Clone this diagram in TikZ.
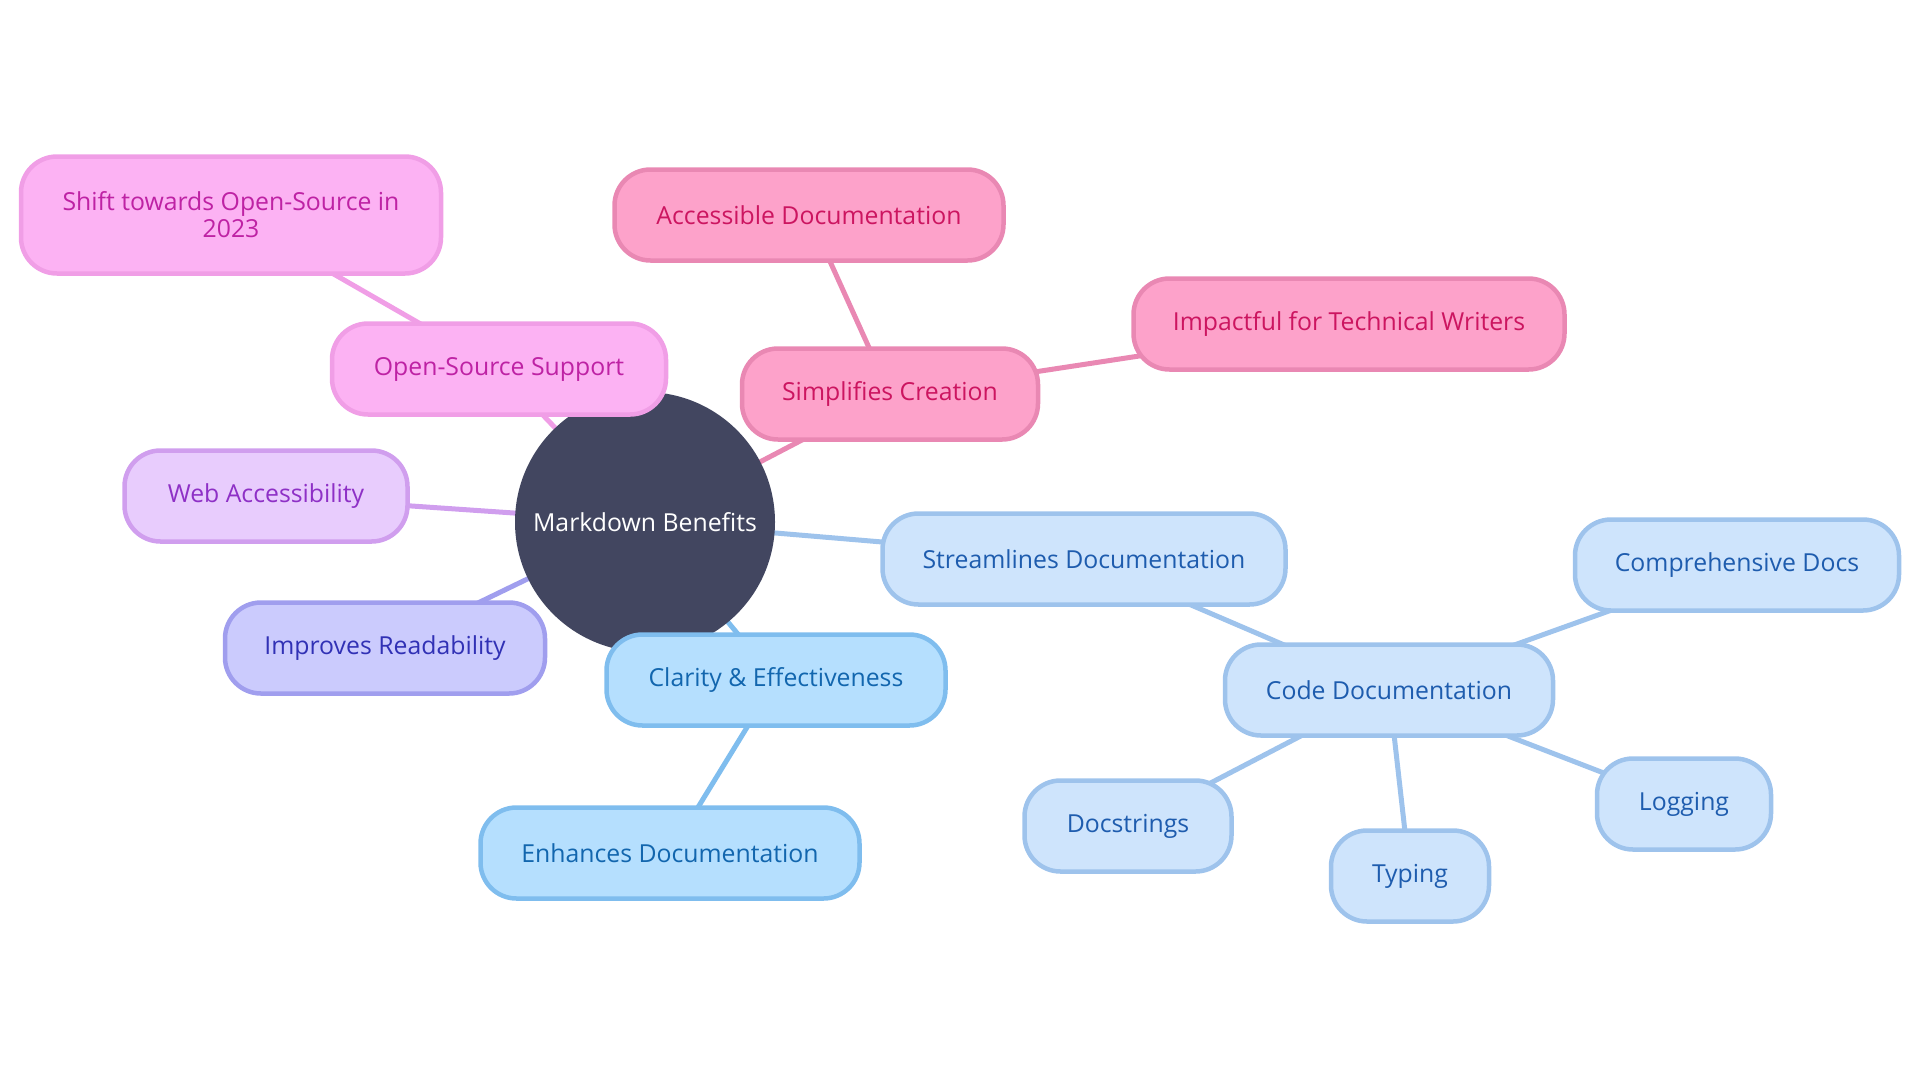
\documentclass[tikz,border=0pt]{standalone}
\usepackage{fontspec}
\setmainfont{Open Sans}
\definecolor{ctrF}{HTML}{424660}
\definecolor{mgF}{HTML}{FCB2F3}
\definecolor{mgD}{HTML}{F09EE6}
\definecolor{mgT}{HTML}{BE22A4}
\definecolor{pkF}{HTML}{FDA2CA}
\definecolor{pkD}{HTML}{E988B3}
\definecolor{pkT}{HTML}{CC1560}
\definecolor{vlF}{HTML}{E8CCFD}
\definecolor{vlD}{HTML}{D09EEE}
\definecolor{vlT}{HTML}{8E30C6}
\definecolor{inF}{HTML}{CBCBFD}
\definecolor{inD}{HTML}{A09EEE}
\definecolor{inT}{HTML}{3131B5}
\definecolor{skF}{HTML}{B5DFFE}
\definecolor{skD}{HTML}{7FBDEE}
\definecolor{skT}{HTML}{1266AE}
\definecolor{blF}{HTML}{CEE4FC}
\definecolor{blD}{HTML}{9EC3EC}
\definecolor{blT}{HTML}{1E5CAE}
\tikzset{
  box/.style={draw, line width=4.5pt, rounded corners=36pt, minimum height=91pt,
    inner sep=0pt, align=center, font=\fontsize{24.8}{27}\selectfont},
  mgbox/.style={box, fill=mgF, draw=mgD, text=mgT},
  pkbox/.style={box, fill=pkF, draw=pkD, text=pkT},
  vlbox/.style={box, fill=vlF, draw=vlD, text=vlT},
  inbox/.style={box, fill=inF, draw=inD, text=inT},
  skbox/.style={box, fill=skF, draw=skD, text=skT},
  blbox/.style={box, fill=blF, draw=blD, text=blT},
  link/.style={line width=5pt},
}
\begin{document}
\begin{tikzpicture}[x=1pt,y=-1pt]
\useasboundingbox (0,0) rectangle (1920,1080);
% node centres
\path (645,522) coordinate (cC)
      (231,215) coordinate (cShift)
      (499,369) coordinate (cOSS)
      (809,215) coordinate (cAcc)
      (890,394) coordinate (cSimp)
      (1349,324) coordinate (cImp)
      (266,496) coordinate (cWeb)
      (385,648) coordinate (cRead)
      (776,680) coordinate (cClar)
      (670,853) coordinate (cEnh)
      (1084,559) coordinate (cStr)
      (1389,690) coordinate (cCode)
      (1737,565) coordinate (cComp)
      (1128,826) coordinate (cDocs)
      (1410,876) coordinate (cTyp)
      (1684,804) coordinate (cLog);
% connectors, centre to centre, drawn first
\draw[link, mgD] (cC) -- (cOSS);
\draw[link, mgD] (cOSS) -- (cShift);
\draw[link, pkD] (cC) -- (cSimp);
\draw[link, pkD] (cSimp) -- (cAcc);
\draw[link, pkD] (cSimp) -- (cImp);
\draw[link, vlD] (cC) -- (cWeb);
\draw[link, inD] (cC) -- (cRead);
\draw[link, skD] (cC) -- (cClar);
\draw[link, skD] (cClar) -- (cEnh);
\draw[link, blD] (cC) -- (cStr);
\draw[link, blD] (cStr) -- (cCode);
\draw[link, blD] (cCode) -- (cComp);
\draw[link, blD] (cCode) -- (cDocs);
\draw[link, blD] (cCode) -- (cTyp);
\draw[link, blD] (cCode) -- (cLog);
% centre
\node[circle, fill=ctrF, minimum size=260pt, inner sep=0pt, text=white,
      font=\fontsize{24.8}{27}\selectfont] (center) at (cC) {Markdown Benefits};
% nodes
\node[mgbox, minimum width=420pt, minimum height=117pt] (shift) at (cShift) {Shift towards Open-Source in\\2023};
\node[mgbox, minimum width=334pt] (oss) at (cOSS) {Open-Source Support};
\node[pkbox, minimum width=389pt] (acc) at (cAcc) {Accessible Documentation};
\node[pkbox, minimum width=296pt] (simp) at (cSimp) {Simplifies Creation};
\node[pkbox, minimum width=431pt] (imp) at (cImp) {Impactful for Technical Writers};
\node[vlbox, minimum width=283pt] (web) at (cWeb) {Web Accessibility};
\node[inbox, minimum width=320pt] (read) at (cRead) {Improves Readability};
\node[skbox, minimum width=339pt] (clar) at (cClar) {Clarity \& Effectiveness};
\node[skbox, minimum width=379pt] (enh) at (cEnh) {Enhances Documentation};
\node[blbox, minimum width=403pt] (str) at (cStr) {Streamlines Documentation};
\node[blbox, minimum width=328pt] (code) at (cCode) {Code Documentation};
\node[blbox, minimum width=324pt] (comp) at (cComp) {Comprehensive Docs};
\node[blbox, minimum width=207pt] (docs) at (cDocs) {Docstrings};
\node[blbox, minimum width=158pt] (typ) at (cTyp) {Typing};
\node[blbox, minimum width=174pt] (log) at (cLog) {Logging};
\end{tikzpicture}
\end{document}
